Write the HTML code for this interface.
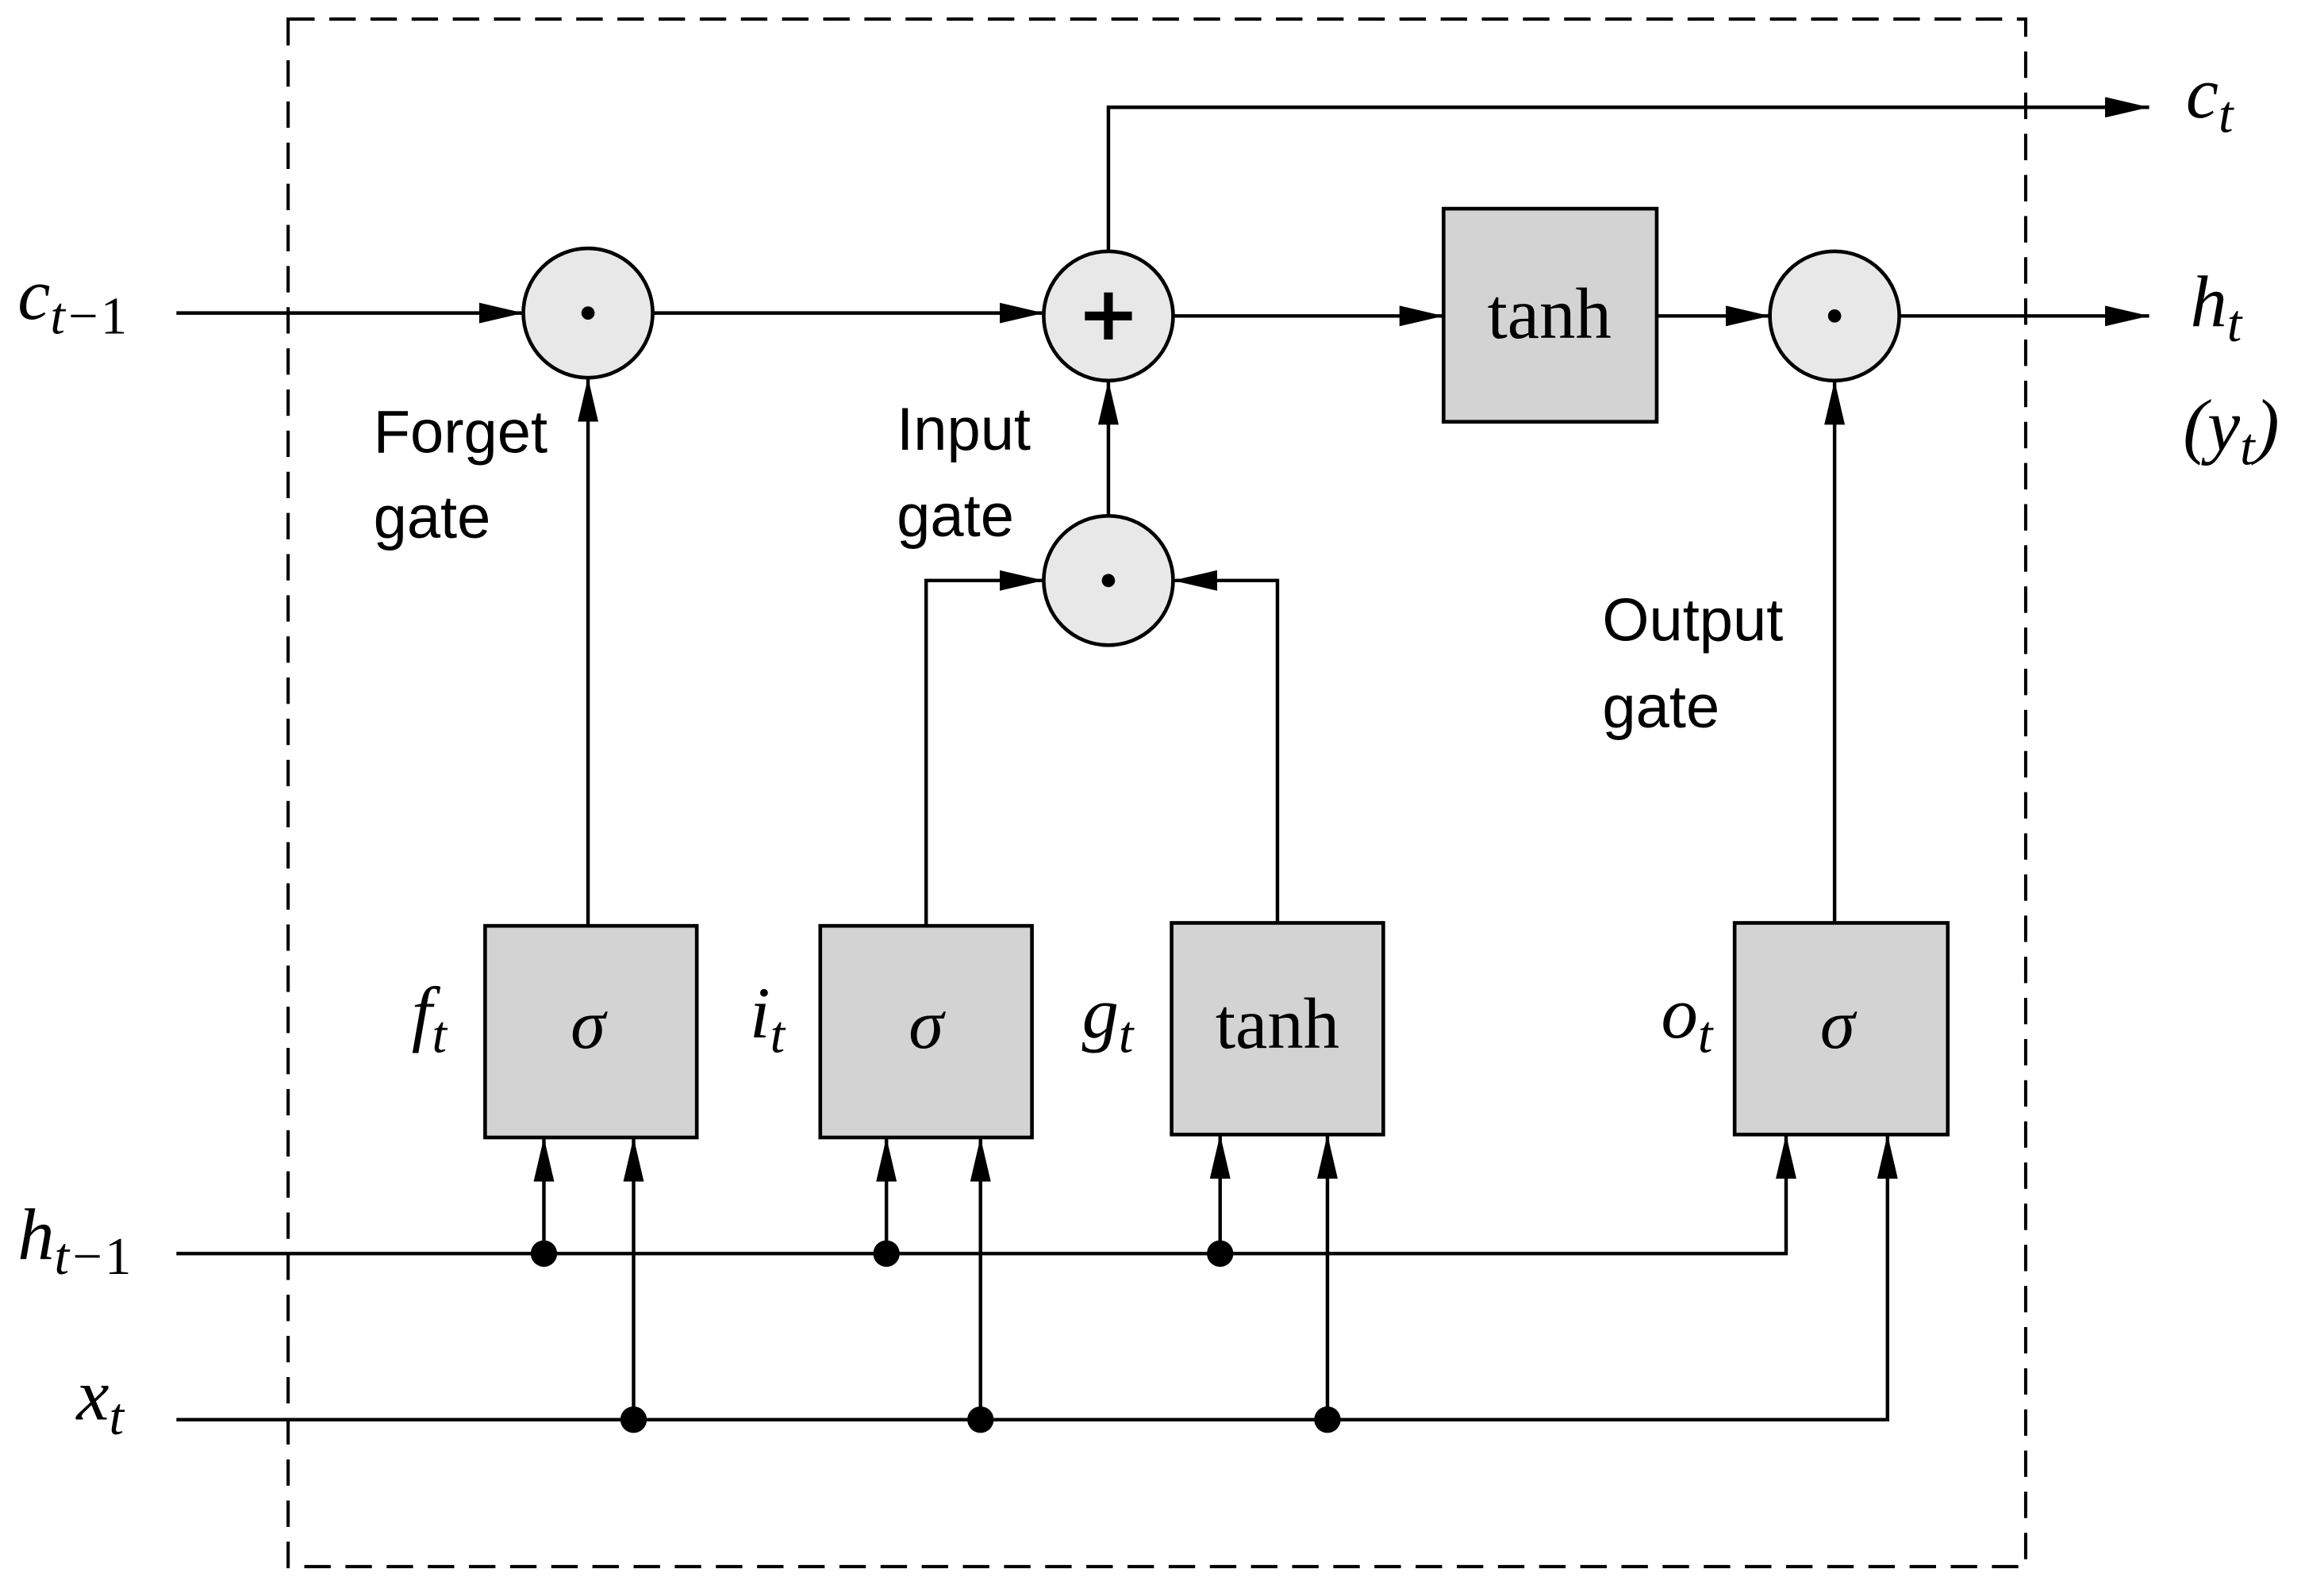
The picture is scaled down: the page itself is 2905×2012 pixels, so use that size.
<!DOCTYPE html>
<html><head><meta charset="utf-8"><style>
html,body{margin:0;padding:0;background:#fff;}
svg{display:block;}
.m{font-family:"Liberation Serif",serif;font-style:italic;}
.s{font-family:"Liberation Serif",serif;}
.l{font-family:"Liberation Sans",sans-serif;font-size:41px;}
</style></head><body>
<svg width="2905" height="2012" viewBox="0 0 1568 1086" xmlns="http://www.w3.org/2000/svg">
<defs>
<marker id="a" viewBox="0 0 30 14" refX="30" refY="7" markerWidth="30" markerHeight="14" markerUnits="userSpaceOnUse" orient="auto">
<path d="M0,0 L30,7 L0,14 Z" fill="#000"/></marker>
</defs>
<rect x="196" y="13" width="1182" height="1053" fill="none" stroke="#000" stroke-width="2.2" stroke-dasharray="18,10"/>
<g stroke="#000" stroke-width="2.4" fill="none">
<line x1="120" y1="213" x2="356" y2="213" marker-end="url(#a)"/>
<line x1="444" y1="213" x2="710" y2="213" marker-end="url(#a)"/>
<polyline points="754,171 754,73 1462,73" marker-end="url(#a)"/>
<line x1="798" y1="215" x2="982" y2="215" marker-end="url(#a)"/>
<line x1="1127" y1="215" x2="1204" y2="215" marker-end="url(#a)"/>
<line x1="1292" y1="215" x2="1462" y2="215" marker-end="url(#a)"/>
<line x1="400" y1="630" x2="400" y2="257" marker-end="url(#a)"/>
<line x1="754" y1="351" x2="754" y2="259" marker-end="url(#a)"/>
<polyline points="630,630 630,395 710,395" marker-end="url(#a)"/>
<polyline points="869,628 869,395 798,395" marker-end="url(#a)"/>
<line x1="1248" y1="628" x2="1248" y2="259" marker-end="url(#a)"/>
<polyline points="120,853 1215,853 1215,772" marker-end="url(#a)"/>
<polyline points="120,966 1284,966 1284,772" marker-end="url(#a)"/>
<line x1="370" y1="853" x2="370" y2="774" marker-end="url(#a)"/>
<line x1="603" y1="853" x2="603" y2="774" marker-end="url(#a)"/>
<line x1="830" y1="853" x2="830" y2="772" marker-end="url(#a)"/>
<line x1="431" y1="966" x2="431" y2="774" marker-end="url(#a)"/>
<line x1="667" y1="966" x2="667" y2="774" marker-end="url(#a)"/>
<line x1="903" y1="966" x2="903" y2="772" marker-end="url(#a)"/>
</g>
<g fill="#000">
<circle cx="370" cy="853" r="9"/><circle cx="603" cy="853" r="9"/><circle cx="830" cy="853" r="9"/>
<circle cx="431" cy="966" r="9"/><circle cx="667" cy="966" r="9"/><circle cx="903" cy="966" r="9"/>
</g>
<g fill="#e8e8e8" stroke="#000" stroke-width="2.5">
<circle cx="400" cy="213" r="44"/><circle cx="754" cy="215" r="44"/>
<circle cx="754" cy="395" r="44"/><circle cx="1248" cy="215" r="44"/>
</g>
<g fill="#000">
<circle cx="400" cy="213" r="4.5"/><circle cx="754" cy="395" r="4.5"/><circle cx="1248" cy="215" r="4.5"/>
<rect x="751" y="199" width="6" height="32"/><rect x="738" y="212" width="32" height="6"/>
</g>
<g fill="#d3d3d3" stroke="#000" stroke-width="2.5">
<rect x="982" y="142" width="145" height="145"/>
<rect x="330" y="630" width="144" height="144"/>
<rect x="558" y="630" width="144" height="144"/>
<rect x="797" y="628" width="144" height="144"/>
<rect x="1180" y="628" width="145" height="144"/>
</g>
<g class="s" font-size="49" text-anchor="middle">
<text x="1054" y="230">tanh</text>
<text x="869" y="713">tanh</text>
</g>
<g class="m" font-size="48" text-anchor="middle">
<text x="400" y="713">σ</text>
<text x="630" y="713">σ</text>
<text x="1250" y="713">σ</text>
</g>
<g class="m" font-size="50">
<text x="12" y="217">c<tspan font-size="36" dy="10">t−<tspan font-style="normal">1</tspan></tspan></text>
<text x="12" y="857">h<tspan font-size="36" dy="10">t−<tspan font-style="normal">1</tspan></tspan></text>
<text x="52" y="966">x<tspan font-size="36" dy="10">t</tspan></text>
<text x="1487" y="80">c<tspan font-size="36" dy="10">t</tspan></text>
<text x="1490" y="222">h<tspan font-size="36" dy="10">t</tspan></text>
<text x="1485" y="306">(y<tspan font-size="36" dy="10">t</tspan><tspan dy="-10">)</tspan></text>
<text x="280" y="706">f<tspan font-size="36" dy="10">t</tspan></text>
<text x="510" y="706">i<tspan font-size="36" dy="10">t</tspan></text>
<text x="736" y="706">g<tspan font-size="36" dy="10">t</tspan></text>
<text x="1130" y="706">o<tspan font-size="36" dy="10">t</tspan></text>
</g>
<g class="l">
<text x="254" y="308">Forget</text><text x="254" y="366">gate</text>
<text x="610" y="306">Input</text><text x="610" y="365">gate</text>
<text x="1090" y="436">Output</text><text x="1090" y="495">gate</text>
</g>
</svg>
</body></html>
